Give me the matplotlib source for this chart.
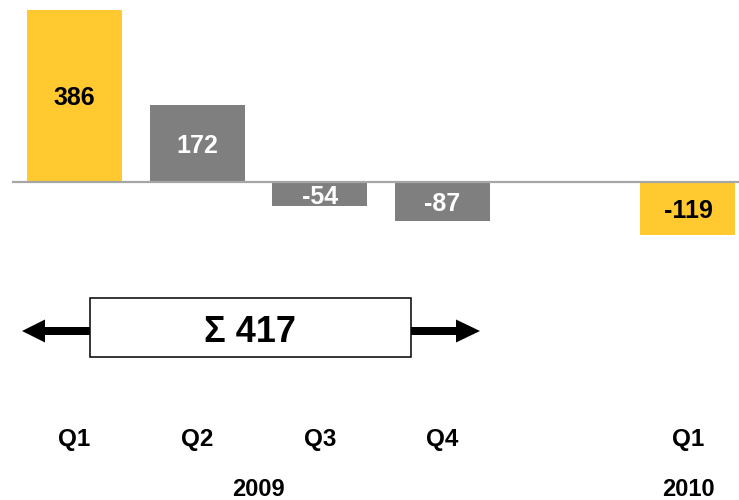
import matplotlib
matplotlib.use("Agg")
import matplotlib.pyplot as plt
from matplotlib.patches import FancyArrow, Rectangle

# Data
quarters = ["Q1", "Q2", "Q3", "Q4", "Q1"]
positions = [0, 1, 2, 3, 5]
values = [386, 172, -54, -87, -119]
years = ["2009", "2010"]
year_positions = [1.5, 5]
sum_label = "Σ 417"

YELLOW = "#FFC92F"
GRAY = "#7F7F7F"
colors = [YELLOW, GRAY, GRAY, GRAY, YELLOW]
text_colors = ["black", "white", "white", "white", "black"]

plt.rcParams['font.family'] = ['Liberation Sans', 'DejaVu Sans']

fig = plt.figure(figsize=(7.39, 5.0), dpi=100)
ax = fig.add_axes([0, 0, 1, 1])
ax.set_xlim(-0.607, 5.416)
ax.set_ylim(-713.6, 408.4)
ax.axis("off")

ax.bar(positions, values, width=0.774, color=colors, zorder=2)
ax.plot([-0.509, 5.416], [0, 0], color="#A6A6A6", lw=1.6, zorder=3,
        solid_capstyle="butt")

for x, v, tc in zip(positions, values, text_colors):
    ax.text(x, v / 2, f"{v}", ha="center", va="center_baseline", color=tc,
            fontsize=18, fontweight="bold", zorder=4)

for x, q in zip(positions, quarters):
    ax.text(x, -572, q, ha="center", va="center_baseline", fontsize=17.5,
            fontweight="bold", color="black")
for x, y in zip(year_positions, years):
    ax.text(x, -684, y, ha="center", va="center_baseline", fontsize=17,
            fontweight="bold", color="black")

# Overlay in pixel coordinates for the sum annotation
ov = fig.add_axes([0, 0, 1, 1])
ov.set_xlim(0, 739)
ov.set_ylim(500, 0)
ov.axis("off")
ov.patch.set_alpha(0)

ov.add_patch(FancyArrow(90, 331, -68, 0, width=8, head_width=23,
                        head_length=23, length_includes_head=True,
                        color="black", lw=0))
ov.add_patch(FancyArrow(410, 331, 70, 0, width=8, head_width=23,
                        head_length=24, length_includes_head=True,
                        color="black", lw=0))
ov.add_patch(Rectangle((90, 298), 321, 59, facecolor="white",
                       edgecolor="black", lw=1.1, zorder=3))
ov.text(250, 328, sum_label, ha="center", va="center_baseline", fontsize=26,
        fontweight="bold", zorder=4)

fig.savefig("out.png", dpi=100)
